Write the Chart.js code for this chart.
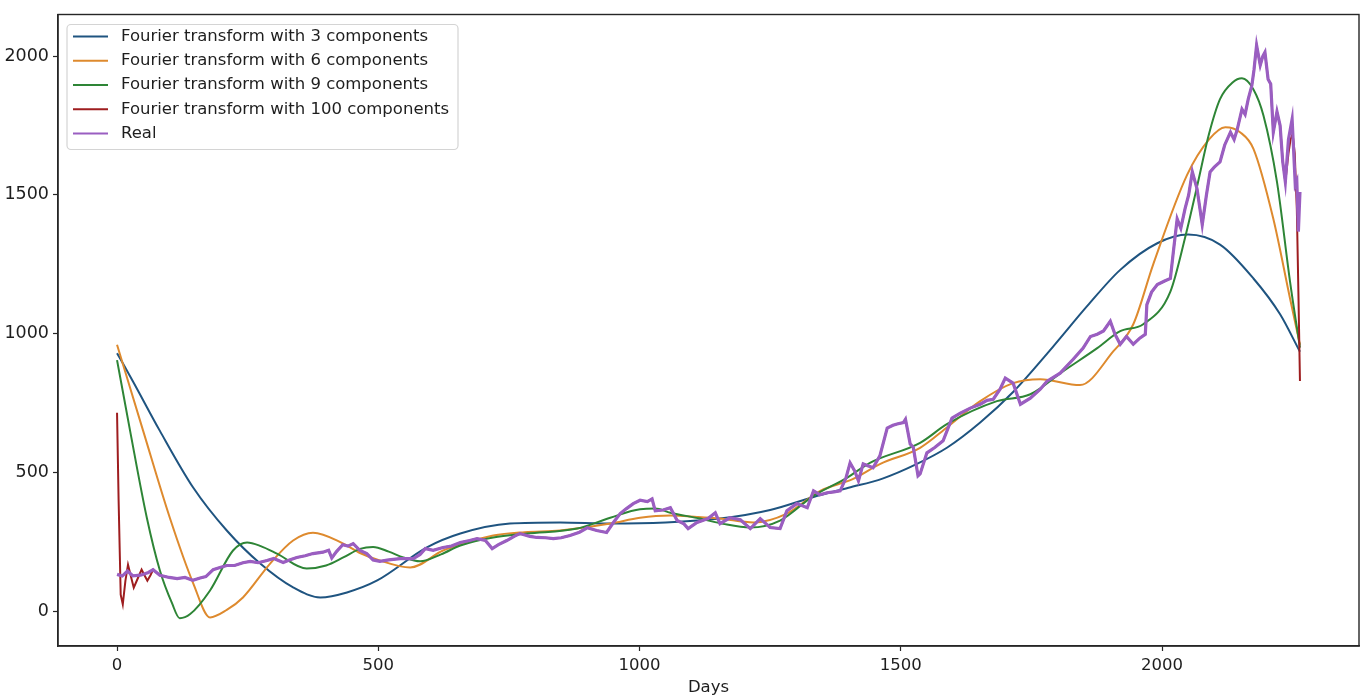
<!DOCTYPE html>
<html>
<head>
<meta charset="utf-8">
<script src="https://cdn.jsdelivr.net/npm/chart.js@4.4.1/dist/chart.umd.min.js"></script>
<style>
  html, body { margin: 0; padding: 0; background: #ffffff; overflow: hidden; }
  canvas { display: block; }
</style>
</head>
<body>
<canvas id="chart" width="1362" height="698"></canvas>
<script>
// Axis ticks
const xTicks = [0, 500, 1000, 1500, 2000];
const yTicks = [0, 500, 1000, 1500, 2000];

// Reconstruction with 3 Fourier components
const days3 = [0, 30, 82, 146, 210, 274, 337, 389, 440, 498, 593, 657, 752, 848, 944, 1050, 1154, 1250, 1333, 1400, 1465, 1530, 1589, 1652, 1715, 1790, 1857, 1920, 1990, 2050, 2111, 2175, 2226, 2264];
const fourier3 = [930, 830, 650, 445, 291, 172, 86, 50, 68, 111, 230, 280, 316, 320, 316, 320, 334, 365, 412, 445, 478, 530, 590, 680, 790, 950, 1100, 1230, 1325, 1357, 1321, 1199, 1070, 935];

// Reconstruction with 6 Fourier components
const days6 = [0, 50, 101, 146, 178, 210, 241, 293, 337, 375, 433, 465, 500, 561, 624, 657, 720, 780, 848, 944, 1001, 1059, 1110, 1154, 1218, 1282, 1346, 1409, 1461, 1537, 1590, 1652, 1715, 1767, 1843, 1907, 1945, 1983, 2048, 2090, 2121, 2150, 2175, 2213, 2245, 2264];
const fourier6 = [960, 650, 337, 100, -22, 5, 50, 172, 255, 283, 244, 210, 185, 158, 219, 240, 273, 285, 291, 316, 337, 345, 340, 334, 320, 352, 434, 477, 531, 589, 665, 757, 822, 836, 815, 937, 1034, 1249, 1572, 1700, 1744, 1725, 1666, 1414, 1127, 960];

// Reconstruction with 9 Fourier components
const days9 = [0, 25, 57, 82, 105, 120, 140, 178, 222, 249, 275, 306, 363, 400, 433, 465, 490, 520, 548, 580, 620, 657, 720, 785, 881, 944, 1001, 1030, 1059, 1116, 1160, 1212, 1269, 1333, 1397, 1441, 1537, 1589, 1684, 1748, 1811, 1876, 1920, 1964, 2016, 2044, 2067, 2090, 2111, 2135, 2153, 2175, 2194, 2220, 2245, 2264];
const fourier9 = [905, 650, 337, 147, 30, -25, -10, 75, 219, 248, 235, 208, 154, 165, 194, 225, 232, 215, 194, 180, 205, 237, 266, 280, 298, 337, 368, 370, 355, 334, 315, 302, 327, 416, 481, 535, 607, 675, 757, 782, 865, 948, 1009, 1034, 1152, 1345, 1530, 1720, 1845, 1905, 1920, 1880, 1787, 1547, 1188, 950];

// Observed daily price
const realDays = [0, 10, 20, 30, 45, 60, 69, 82, 100, 115, 130, 145, 159, 170, 184, 197, 210, 225, 241, 255, 270, 287, 300, 318, 330, 344, 360, 375, 394, 405, 411, 420, 432, 442, 452, 465, 478, 490, 503, 520, 542, 567, 580, 590, 605, 624, 640, 657, 675, 689, 705, 718, 730, 746, 760, 771, 790, 804, 820, 835, 850, 867, 885, 900, 918, 937, 950, 963, 975, 988, 1001, 1015, 1024, 1030, 1045, 1059, 1072, 1085, 1093, 1110, 1131, 1145, 1154, 1173, 1193, 1212, 1231, 1250, 1269, 1282, 1301, 1321, 1333, 1345, 1359, 1372, 1384, 1395, 1403, 1412, 1419, 1428, 1447, 1460, 1474, 1485, 1493, 1505, 1509, 1518, 1524, 1533, 1537, 1550, 1565, 1581, 1598, 1614, 1633, 1652, 1665, 1677, 1690, 1700, 1715, 1729, 1748, 1767, 1780, 1805, 1830, 1849, 1863, 1876, 1888, 1901, 1910, 1920, 1932, 1945, 1958, 1968, 1971, 1980, 1991, 2005, 2016, 2022, 2029, 2036, 2044, 2051, 2058, 2067, 2077, 2085, 2092, 2100, 2111, 2120, 2131, 2138, 2144, 2153, 2159, 2165, 2172, 2176, 2181, 2188, 2193, 2197, 2203, 2208, 2213, 2220, 2226, 2231, 2236, 2242, 2249, 2255, 2258, 2261, 2264];
const realPrice = [133, 127, 145, 128, 130, 140, 150, 130, 122, 118, 122, 112, 120, 125, 150, 158, 165, 165, 175, 180, 175, 183, 190, 176, 185, 194, 200, 208, 213, 220, 192, 215, 240, 235, 244, 219, 208, 185, 180, 185, 190, 190, 205, 226, 220, 230, 235, 248, 255, 262, 255, 226, 240, 255, 270, 280, 270, 266, 265, 262, 265, 273, 285, 301, 291, 284, 320, 352, 370, 388, 400, 395, 405, 362, 365, 373, 327, 315, 298, 320, 334, 355, 316, 337, 330, 298, 334, 302, 298, 362, 388, 373, 434, 420, 427, 430, 434, 480, 535, 505, 470, 531, 517, 560, 660, 670, 675, 680, 692, 603, 590, 488, 495, 571, 590, 614, 696, 714, 732, 746, 760, 764, 800, 840, 822, 746, 768, 800, 829, 858, 908, 948, 990, 998, 1010, 1045, 998, 962, 990, 962, 985, 998, 1105, 1150, 1177, 1190, 1199, 1300, 1414, 1380, 1450, 1500, 1583, 1522, 1393, 1500, 1583, 1600, 1619, 1680, 1726, 1700, 1736, 1809, 1790, 1845, 1895, 1950, 2039, 1967, 2000, 2014, 1917, 1900, 1726, 1800, 1750, 1620, 1547, 1700, 1773, 1536, 1550, 1368, 1511];

// Reconstruction with 100 components: ringing at both ends, the
// observed series in between (the two overlap there)
const days100Head = [0, 3, 7, 11, 16, 21, 26, 32, 40, 47, 53, 58, 64, 69];
const fourier100Head = [715, 400, 60, 25, 110, 168, 130, 85, 120, 150, 128, 110, 130, 150];
const days100Tail = [2242, 2246, 2250, 2254, 2258, 2261, 2264];
const fourier100Tail = [1650, 1700, 1720, 1650, 1450, 1150, 830];

const pts = (xs, ys) => xs.map((x, i) => ({ x: x, y: ys[i] }));

const midStart = realDays.indexOf(82);
const midEnd = realDays.indexOf(2236) + 1;
const points100 = pts(days100Head, fourier100Head)
  .concat(pts(realDays.slice(midStart, midEnd), realPrice.slice(midStart, midEnd)))
  .concat(pts(days100Tail, fourier100Tail));

const FONT = '"DejaVu Sans", "Liberation Sans", sans-serif';
const FONT_SIZE = 16.5;
const INK = '#1e1e1e';

// Frame around the plot area and the boxed key in its upper-left corner
const frameAndKey = {
  id: 'frameAndKey',
  afterDatasetsDraw(chart) {
    const { ctx, chartArea: a } = chart;
    ctx.save();
    ctx.strokeStyle = '#262626';
    ctx.lineWidth = 1.4;
    ctx.strokeRect(a.left, a.top, a.right - a.left, a.bottom - a.top);
    ctx.restore();
  },
  afterDraw(chart) {
    const { ctx, chartArea: a } = chart;
    const boxX = a.left + 9, boxY = a.top + 10, boxW = 391, boxH = 125;
    ctx.save();
    ctx.beginPath();
    ctx.roundRect(boxX, boxY, boxW, boxH, 4);
    ctx.fillStyle = 'rgba(255,255,255,0.85)';
    ctx.fill();
    ctx.strokeStyle = '#d4d4d4';
    ctx.lineWidth = 1.2;
    ctx.stroke();
    ctx.font = FONT_SIZE + 'px ' + FONT;
    ctx.textBaseline = 'middle';
    ctx.textAlign = 'left';
    chart.data.datasets.forEach((ds, i) => {
      const y = boxY + 12 + i * 24.25;
      ctx.beginPath();
      ctx.moveTo(boxX + 6, y);
      ctx.lineTo(boxX + 41, y);
      ctx.strokeStyle = ds.borderColor;
      ctx.lineWidth = 2;
      ctx.stroke();
      ctx.fillStyle = INK;
      ctx.fillText(ds.label, boxX + 54, y);
    });
    ctx.restore();
  }
};

const line = (label, data, color, width, order, smooth) => ({
  label: label,
  data: data,
  borderColor: color,
  backgroundColor: color,
  borderWidth: width,
  pointRadius: 0,
  fill: false,
  order: order,
  tension: 0,
  cubicInterpolationMode: smooth ? 'monotone' : 'default'
});

const plainNumber = (v) => String(v);

new Chart(document.getElementById('chart'), {
  type: 'line',
  data: {
    datasets: [
      line('Fourier transform with 3 components', pts(days3, fourier3), '#1f5480', 2, 5, true),
      line('Fourier transform with 6 components', pts(days6, fourier6), '#de8a2e', 2, 4, true),
      line('Fourier transform with 9 components', pts(days9, fourier9), '#2e8536', 2, 3, true),
      line('Fourier transform with 100 components', points100, '#9e1d1f', 2, 2, false),
      line('Real', pts(realDays, realPrice), '#9a5ec1', 3.2, 1, false)
    ]
  },
  options: {
    responsive: false,
    animation: false,
    devicePixelRatio: 1,
    layout: { padding: { top: 12, right: 3, left: 0, bottom: 0 } },
    plugins: {
      legend: { display: false },
      tooltip: { enabled: false }
    },
    scales: {
      x: {
        type: 'linear',
        min: -113,
        max: 2377,
        afterFit: (s) => { s.height = 52; },
        afterBuildTicks: (s) => { s.ticks = xTicks.map(v => ({ value: v })); },
        grid: { display: true, drawOnChartArea: false, drawTicks: true, tickLength: 5, tickColor: '#262626', tickWidth: 1.2 },
        border: { display: true, color: '#262626', width: 1.4 },
        ticks: { color: INK, font: { family: FONT, size: FONT_SIZE }, padding: 5, maxRotation: 0, autoSkip: false, callback: plainNumber },
        title: { display: true, text: 'Days', color: INK, font: { family: FONT, size: FONT_SIZE }, padding: { top: 0, bottom: 0 } }
      },
      y: {
        type: 'linear',
        min: -125,
        max: 2150,
        afterFit: (s) => { s.width = 58; },
        afterBuildTicks: (s) => { s.ticks = yTicks.map(v => ({ value: v })); },
        grid: { display: true, drawOnChartArea: false, drawTicks: true, tickLength: 5, tickColor: '#262626', tickWidth: 1.2 },
        border: { display: true, color: '#262626', width: 1.4 },
        ticks: { color: INK, font: { family: FONT, size: 17.5 }, padding: 4, autoSkip: false, callback: plainNumber }
      }
    }
  },
  plugins: [frameAndKey]
});
</script>
</body>
</html>
